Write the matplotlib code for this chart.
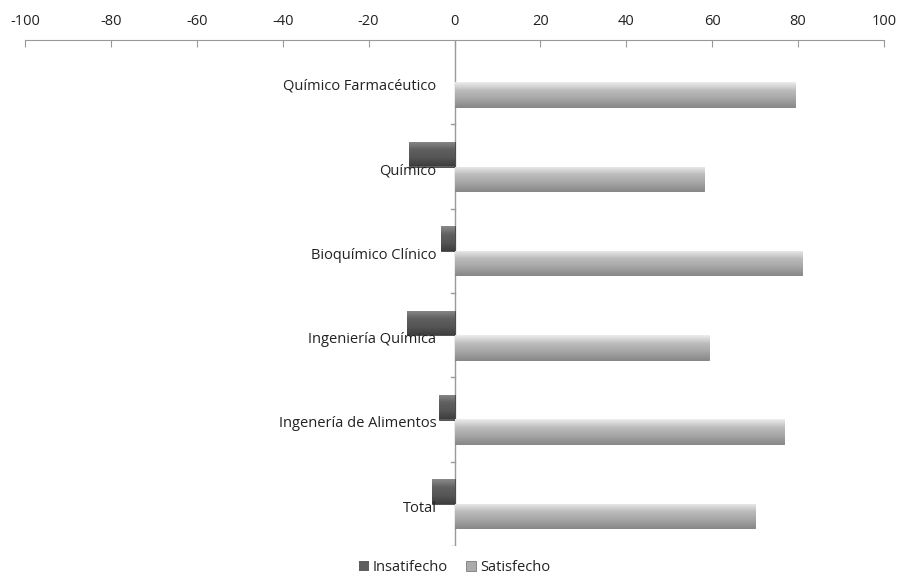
import numpy as np
import matplotlib.pyplot as plt
from matplotlib.colors import LinearSegmentedColormap

categories = ["Químico Farmacéutico", "Químico", "Bioquímico Clínico",
              "Ingeniería Química", "Ingenería de Alimentos", "Total"]
insatisfecho = [0, -10.7, -3.2, -11, -3.6, -5.3]
satisfecho = [79.3, 58, 81, 59.3, 76.7, 70]
xticks = [-100, -80, -60, -40, -20, 0, 20, 40, 60, 80, 100]

plt.rcParams['font.family'] = ['Open Sans', 'DejaVu Sans']

fig = plt.figure(figsize=(8.99, 5.81), dpi=100)
ax = fig.add_axes([25 / 899, 1 - 546 / 581, 859 / 899, 506 / 581])

y = np.arange(len(categories))
h = 0.29
bars_i = ax.barh(y - h / 2, insatisfecho, height=h, color="#5e5e5e",
                 edgecolor="#444444", linewidth=0.6, label="Insatifecho", zorder=2)
bars_s = ax.barh(y + h / 2, satisfecho, height=h, color="#ababab",
                 edgecolor="#7a7a7a", linewidth=0.6, label="Satisfecho", zorder=2)

# soft vertical shading to mimic the bevelled bars
cm_s = LinearSegmentedColormap.from_list("s", ["#ececec", "#bcbcbc", "#a6a6a6", "#8a8a8a"])
cm_i = LinearSegmentedColormap.from_list("i", ["#8a8a8a", "#606060", "#555555", "#3e3e3e"])
grad = np.linspace(0, 1, 64).reshape(-1, 1)
for bars, cm in ((bars_s, cm_s), (bars_i, cm_i)):
    for p in bars:
        x0, y0 = p.get_x(), p.get_y()
        w, hh = p.get_width(), p.get_height()
        if w == 0:
            p.set_linewidth(0)
            continue
        im = ax.imshow(grad, cmap=cm, aspect="auto", zorder=2.5,
                       extent=(x0, x0 + w, y0 + hh, y0))
        im.set_clip_path(p)

ax.set_xlim(-100, 100)
ax.set_ylim(len(categories) - 0.5, -0.5)
ax.set_xticks(xticks)
ax.set_xticklabels([str(v) for v in xticks])
ax.xaxis.tick_top()
ax.tick_params(axis="x", direction="in", length=5, color="#999999",
               labelsize=10.5, pad=8, labelcolor="#222222")

for s in ("right", "bottom", "left"):
    ax.spines[s].set_visible(False)
ax.spines["top"].set_color("#999999")

# vertical axis through zero with category separators
ax.axvline(0, color="#999999", linewidth=1, zorder=1)
for b in np.arange(len(categories)) + 0.5:
    ax.plot([-0.9, 0], [b, b], color="#999999", linewidth=1, zorder=1)
ax.set_yticks([])

for yi, name in zip(y, categories):
    ax.text(-4.2, yi + 0.05, name, ha="right", va="center", fontsize=10.5,
            color="#222222", zorder=4)

ax.legend(loc="upper center", bbox_to_anchor=(0.5, -0.022), ncol=2, frameon=False,
          fontsize=10.5, handlelength=0.7, handleheight=0.7, handletextpad=0.3,
          columnspacing=1.2, labelcolor="#222222", borderaxespad=0.0,
          borderpad=0.2)

fig.savefig("out.png", dpi=100)
